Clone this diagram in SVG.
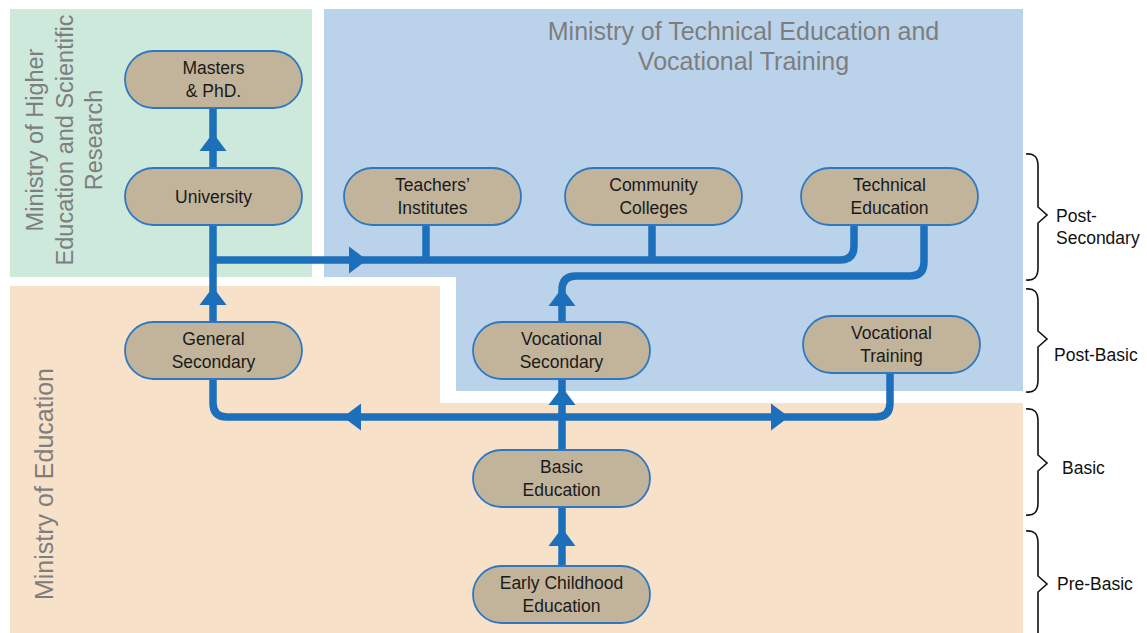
<svg xmlns="http://www.w3.org/2000/svg" xmlns:xlink="http://www.w3.org/1999/xlink" width="1147" height="633" viewBox="0 0 1147 633">
<style>
.node rect{fill:#c1b49a;stroke:#2f78c0;stroke-width:1.8}
.node text{font-family:"Liberation Sans",Arial,sans-serif;font-size:17.5px;fill:#1a1a1a;text-anchor:middle}
.lbl{font-family:"Liberation Sans",Arial,sans-serif;fill:#7e7e7e;text-anchor:middle}
.conn path{fill:none;stroke:#1c6fba;stroke-width:7.5}
.conn use{fill:#1c6fba}
.brace path{fill:none;stroke:#111;stroke-width:1.6}
.brace text{font-family:"Liberation Sans",Arial,sans-serif;font-size:17.5px;fill:#111}
</style>
<defs>
<path id="ah" d="M0,0 L-13.5,18 L13.5,18 Z"/>
</defs>
<rect width="1147" height="633" fill="#ffffff"/>
<g id="regions">
<rect x="10" y="9" width="302" height="268" fill="#cde9db"/>
<path d="M324,9 H1023 V391 H456 V277 H324 Z" fill="#bad3ea"/>
<path d="M10,286 H440 V403 H1023 V633 H10 Z" fill="#f8e1c9"/>
</g>
<g id="region-labels">
<g transform="translate(43,140) rotate(-90)">
<text class="lbl" font-size="23.5" x="0" y="0">Ministry of Higher</text>
<text class="lbl" font-size="23.5" x="0" y="29.5">Education and Scientific</text>
<text class="lbl" font-size="23.5" x="0" y="59">Research</text>
</g>
<text class="lbl" font-size="25" x="743.5" y="40">Ministry of Technical Education and</text>
<text class="lbl" font-size="25" x="743.5" y="70">Vocational Training</text>
<text class="lbl" font-size="25" transform="translate(53,484) rotate(-90)" x="0" y="0">Ministry of Education</text>
</g>
<g id="connectors" class="conn">
<path d="M213,168 V108"/>
<path d="M213,322 V225"/>
<path d="M213,260 H840 Q854,260 854,246 V225"/>
<path d="M426,260 V225 M652,260 V225"/>
<path d="M924,225 V262 Q924,276 910,276 H576 Q562,276 562,290 V322"/>
<path d="M562,450 V379"/>
<path d="M213,379 V403 Q213,417 227,417 H876 Q890,417 890,403 V373"/>
<path d="M562,566 V507"/>
<use xlink:href="#ah" href="#ah" transform="translate(213,133)"/>
<use xlink:href="#ah" href="#ah" transform="translate(213,287)"/>
<use xlink:href="#ah" href="#ah" transform="translate(367,260) rotate(90)"/>
<use xlink:href="#ah" href="#ah" transform="translate(562,288)"/>
<use xlink:href="#ah" href="#ah" transform="translate(562,387)"/>
<use xlink:href="#ah" href="#ah" transform="translate(343,417) rotate(-90)"/>
<use xlink:href="#ah" href="#ah" transform="translate(789,417) rotate(90)"/>
<use xlink:href="#ah" href="#ah" transform="translate(562,528)"/>
</g>
<g id="masters" class="node"><rect x="125" y="51" width="177" height="57" rx="28.5"/><text x="213.5" y="74">Masters</text><text x="213.5" y="97">&amp; PhD.</text></g>
<g id="university" class="node"><rect x="125" y="168" width="177" height="57" rx="28.5"/><text x="213.5" y="202.5">University</text></g>
<g id="teachers" class="node"><rect x="344" y="168" width="177" height="57" rx="28.5"/><text x="432.5" y="190.5">Teachers’</text><text x="432.5" y="213.5">Institutes</text></g>
<g id="community" class="node"><rect x="565" y="168" width="177" height="57" rx="28.5"/><text x="653.5" y="190.5">Community</text><text x="653.5" y="213.5">Colleges</text></g>
<g id="technical" class="node"><rect x="801" y="168" width="177" height="57" rx="28.5"/><text x="889.5" y="190.5">Technical</text><text x="889.5" y="213.5">Education</text></g>
<g id="general-secondary" class="node"><rect x="125" y="322" width="177" height="57" rx="28.5"/><text x="213.5" y="344.5">General</text><text x="213.5" y="367.5">Secondary</text></g>
<g id="vocational-secondary" class="node"><rect x="473" y="322" width="177" height="57" rx="28.5"/><text x="561.5" y="344.5">Vocational</text><text x="561.5" y="367.5">Secondary</text></g>
<g id="vocational-training" class="node"><rect x="803" y="316" width="177" height="57" rx="28.5"/><text x="891.5" y="338.5">Vocational</text><text x="891.5" y="361.5">Training</text></g>
<g id="basic-education" class="node"><rect x="473" y="450" width="177" height="57" rx="28.5"/><text x="561.5" y="472.5">Basic</text><text x="561.5" y="495.5">Education</text></g>
<g id="early-childhood" class="node"><rect x="473" y="566" width="177" height="57" rx="28.5"/><text x="561.5" y="588.5">Early Childhood</text><text x="561.5" y="611.5">Education</text></g>
<g id="levels" class="brace">
<path d="M1026,154 C1034,153 1038,157 1038,166 V207 L1047,215 L1038,223 V268 C1038,277 1034,281 1026,280"/>
<text x="1056" y="222">Post-</text><text x="1056" y="244">Secondary</text>
<path d="M1026,289 C1034,288 1038,292 1038,301 V331 L1047,339 L1038,347 V380 C1038,389 1034,393 1026,392"/>
<text x="1054" y="361">Post-Basic</text>
<path d="M1026,409 C1034,408 1038,412 1038,421 V455 L1047,463 L1038,471 V503 C1038,512 1034,516 1026,515"/>
<text x="1062" y="474">Basic</text>
<path d="M1026,531 C1034,530 1038,534 1038,543 V576 L1047,584 L1038,592 V633"/>
<text x="1057" y="590">Pre-Basic</text>
</g>
</svg>
